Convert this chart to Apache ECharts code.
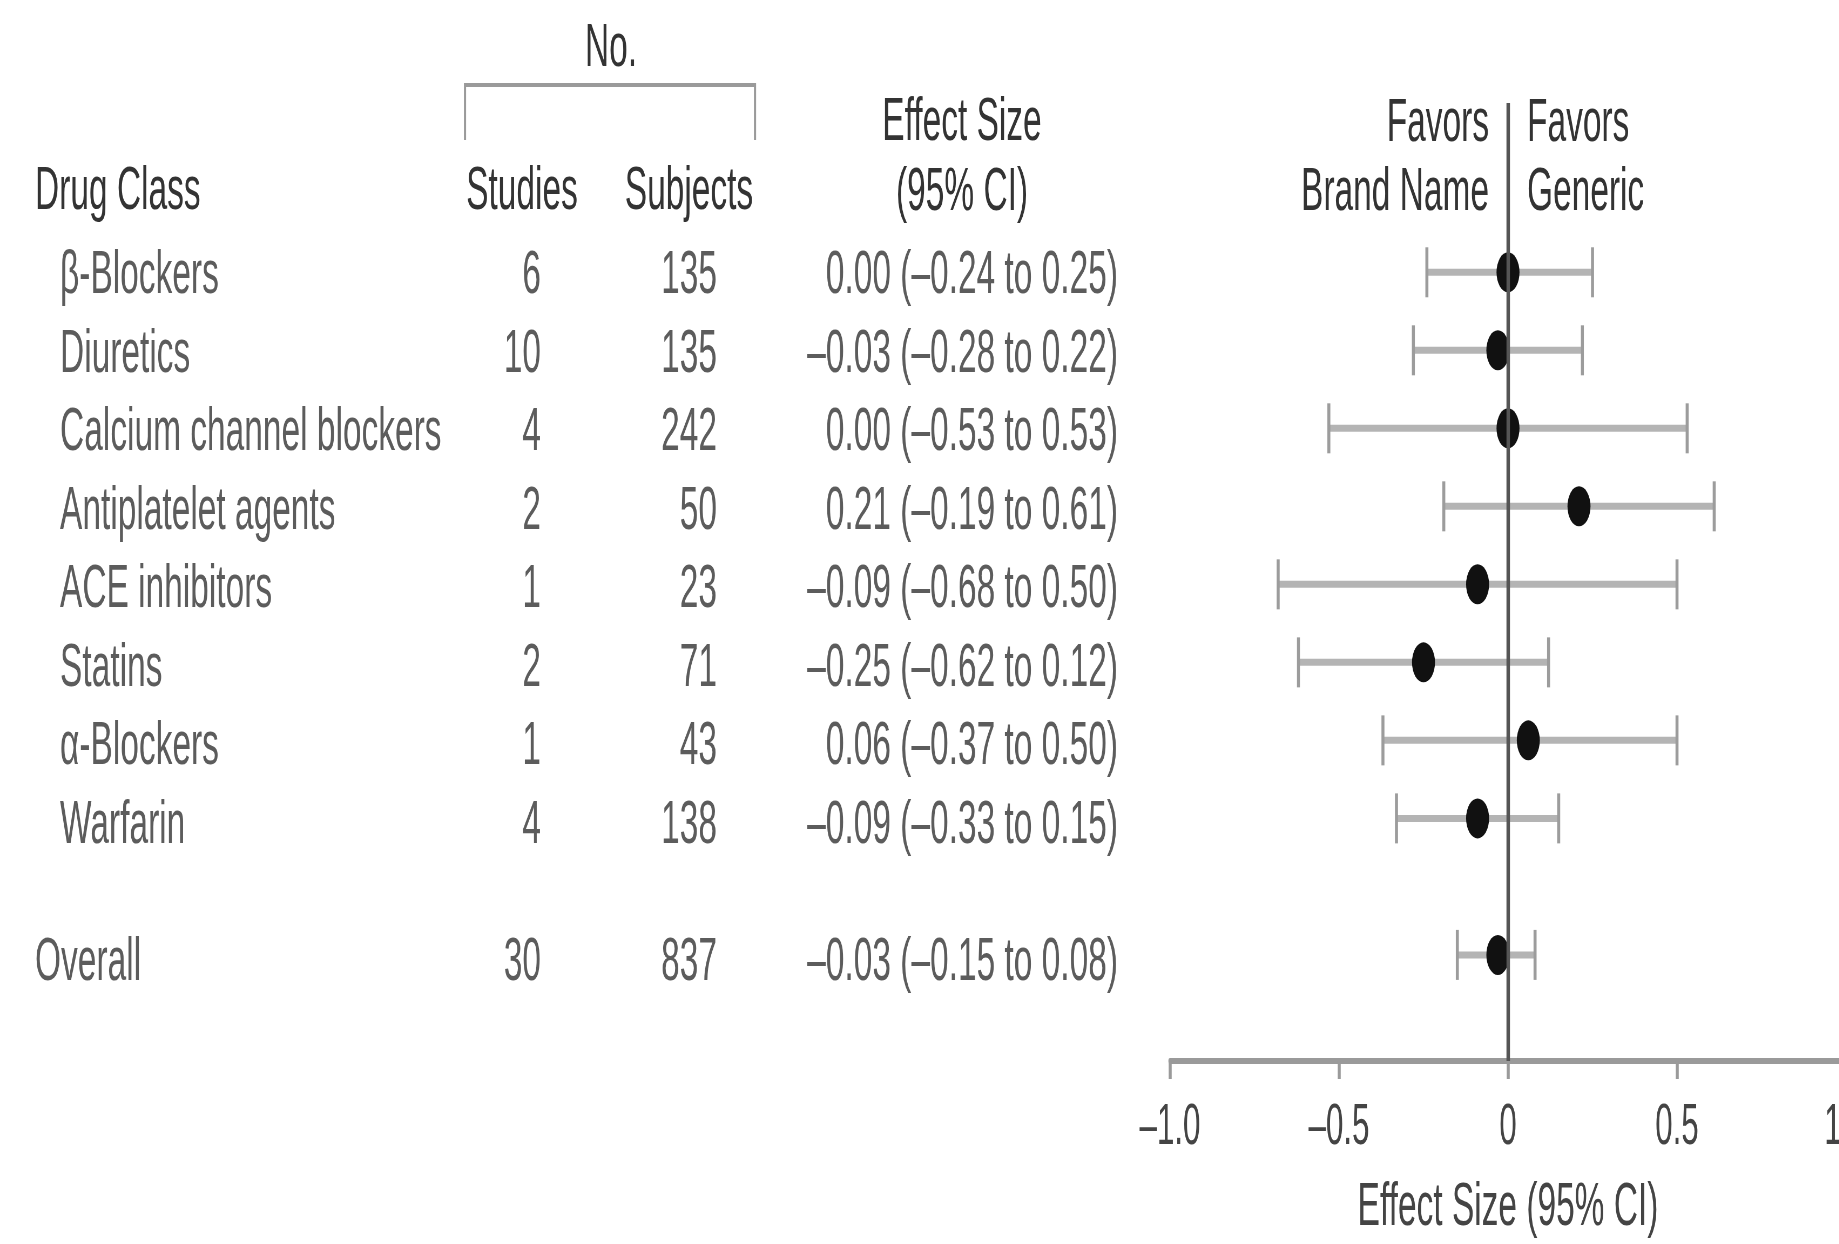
<!DOCTYPE html>
<html>
<head>
<meta charset="utf-8">
<title>Generic vs brand-name drugs: effect size by drug class</title>
<script src="https://cdn.jsdelivr.net/npm/echarts@6/dist/echarts.min.js"></script>
<style>
  html, body { margin: 0; padding: 0; overflow: hidden; background: #fff; }
  body { width: 1839px; height: 1244px; }
  #chart { height: 1244px; transform-origin: 0 0; }
</style>
</head>
<body>
<div id="chart"></div>
<script>
// data
const drugClasses = ['β-Blockers', 'Diuretics', 'Calcium channel blockers', 'Antiplatelet agents',
                     'ACE inhibitors', 'Statins', 'α-Blockers', 'Warfarin'];
const studies  = [6, 10, 4, 2, 1, 2, 1, 4];
const subjects = [135, 135, 242, 50, 23, 71, 43, 138];
const effect   = [0.00, -0.03, 0.00, 0.21, -0.09, -0.25, 0.06, -0.09];
const ciLow    = [-0.24, -0.28, -0.53, -0.19, -0.68, -0.62, -0.37, -0.33];
const ciHigh   = [0.25, 0.22, 0.53, 0.61, 0.50, 0.12, 0.50, 0.15];

const overallLabel = 'Overall';
const overallStudies = 30;
const overallSubjects = 837;
const overallEffect = -0.03;
const overallLow = -0.15;
const overallHigh = 0.08;

const xTicks = [-1.0, -0.5, 0, 0.5, 1.0];

// the original figure is squeezed horizontally, so draw wide and squeeze with css
const S = 0.54;
const FULL_W = 1900;
const CW = Math.round(FULL_W / S);
const X = v => v / S;
const OVERALL_POS = 8.75;
const FONT = '"Liberation Sans", Arial, Helvetica, sans-serif';
const TXT = '#333';
const FS = 62;
const DY = 3; // canvas 'middle' sits a bit below cap middle

const el = document.getElementById('chart');
el.style.width = CW + 'px';
el.style.transform = 'scaleX(' + S + ')';

function fmt(v) {
    return v.toFixed(2).replace('-', '–');
}

// rows = drug classes + overall
let rows = drugClasses.map((d, i) => ({
    name: d, st: studies[i], sub: subjects[i], e: effect[i], lo: ciLow[i], hi: ciHigh[i], y: i, indent: true
}));
rows.push({ name: overallLabel, st: overallStudies, sub: overallSubjects, e: overallEffect,
            lo: overallLow, hi: overallHigh, y: OVERALL_POS, indent: false });

function textCol(xOf, textOf, align) {
    return {
        type: 'scatter',
        xAxisIndex: 1,
        yAxisIndex: 1,
        symbolSize: 1,
        silent: true,
        clip: false,
        itemStyle: { color: 'rgba(0,0,0,0)' },
        label: {
            show: true,
            position: 'inside',
            align: align,
            verticalAlign: 'middle',
            offset: [0, DY],
            formatter: '{b}',
            fontSize: FS,
            fontFamily: FONT,
            color: TXT
        },
        data: rows.map(r => ({ name: String(textOf(r)), value: [xOf(r), r.y] }))
    };
}

function headText(x, y, text, align) {
    return {
        type: 'text',
        x: X(x),
        y: y + DY,
        silent: true,
        style: {
            text: text,
            fill: TXT,
            font: FS + 'px ' + FONT,
            textAlign: align,
            textVerticalAlign: 'middle'
        }
    };
}

let chart = echarts.init(el);
let yRange = { min: -2.17, max: 10.11 };

let option = {
    animation: false,
    backgroundColor: '#fff',
    grid: [
        { left: X(1170), right: CW - X(1846), top: 103, bottom: 177 },
        { left: 0, right: 0, top: 103, bottom: 177 }
    ],
    xAxis: [{
        type: 'value',
        gridIndex: 0,
        min: xTicks[0],
        max: xTicks[xTicks.length - 1],
        interval: 0.5,
        axisLine: { show: true, onZero: false, lineStyle: { color: '#9a9a9a', width: 6 } },
        axisTick: { show: true, length: 18, lineStyle: { color: '#9a9a9a', width: X(3) } },
        splitLine: { show: false },
        axisLabel: {
            fontSize: 58,
            fontFamily: FONT,
            color: '#444',
            margin: 38,
            formatter: v => (v === 0 ? '0' : v.toFixed(1).replace('-', '–'))
        },
        name: 'Effect Size (95% CI)',
        nameLocation: 'middle',
        nameGap: 116,
        nameTextStyle: { fontSize: FS, fontFamily: FONT, color: '#444' }
    }, {
        type: 'value',
        gridIndex: 1,
        min: 0,
        max: CW * S,
        show: false
    }],
    yAxis: [
        { type: 'value', gridIndex: 0, inverse: true, min: yRange.min, max: yRange.max, show: false },
        { type: 'value', gridIndex: 1, inverse: true, min: yRange.min, max: yRange.max, show: false }
    ],
    graphic: [
        headText(611, 46, 'No.', 'center'),
        {
            type: 'polyline',
            silent: true,
            shape: { points: [[X(465), 140], [X(465), 85], [X(755), 85], [X(755), 140]] },
            style: { stroke: '#9a9a9a', lineWidth: 4, fill: null }
        },
        headText(35, 189, 'Drug Class', 'left'),
        headText(522, 189, 'Studies', 'center'),
        headText(689, 189, 'Subjects', 'center'),
        headText(962, 120, 'Effect Size', 'center'),
        headText(962, 190, '(95% CI)', 'center'),
        headText(1489, 121, 'Favors', 'right'),
        headText(1489, 190, 'Brand Name', 'right'),
        headText(1527, 121, 'Favors', 'left'),
        headText(1527, 190, 'Generic', 'left')
    ],
    series: [
        {
            // confidence intervals with end caps
            type: 'custom',
            xAxisIndex: 0,
            yAxisIndex: 0,
            silent: true,
            z: 2,
            data: rows.map(r => [r.lo, r.hi, r.y]),
            encode: { x: [0, 1], y: 2 },
            renderItem: function (params, api) {
                let a = api.coord([api.value(0), api.value(2)]);
                let b = api.coord([api.value(1), api.value(2)]);
                let capStyle = { stroke: '#9c9c9c', lineWidth: X(3) };
                return {
                    type: 'group',
                    children: [
                        { type: 'line', shape: { x1: a[0], y1: a[1], x2: b[0], y2: b[1] },
                          style: { stroke: '#b4b4b4', lineWidth: 7 } },
                        { type: 'line', shape: { x1: a[0], y1: a[1] - 25, x2: a[0], y2: a[1] + 25 }, style: capStyle },
                        { type: 'line', shape: { x1: b[0], y1: b[1] - 25, x2: b[0], y2: b[1] + 25 }, style: capStyle }
                    ]
                };
            },
            markLine: {
                silent: true,
                symbol: 'none',
                label: { show: false },
                lineStyle: { color: '#555', width: X(3.5), type: 'solid' },
                data: [{ xAxis: 0 }]
            }
        },
        {
            type: 'scatter',
            xAxisIndex: 0,
            yAxisIndex: 0,
            silent: true,
            z: 3,
            symbol: 'circle',
            symbolSize: [X(23), 40],
            itemStyle: { color: '#111', opacity: 1 },
            data: rows.map(r => [r.e, r.y])
        },
        textCol(r => (r.indent ? 60 : 35), r => r.name, 'left'),
        textCol(r => 541, r => r.st, 'right'),
        textCol(r => 717, r => r.sub, 'right'),
        textCol(r => 1118, r => fmt(r.e) + ' (' + fmt(r.lo) + ' to ' + fmt(r.hi) + ')', 'right')
    ]
};

chart.setOption(option);
window.addEventListener('resize', function () {
    chart.resize();
});
</script>
</body>
</html>
